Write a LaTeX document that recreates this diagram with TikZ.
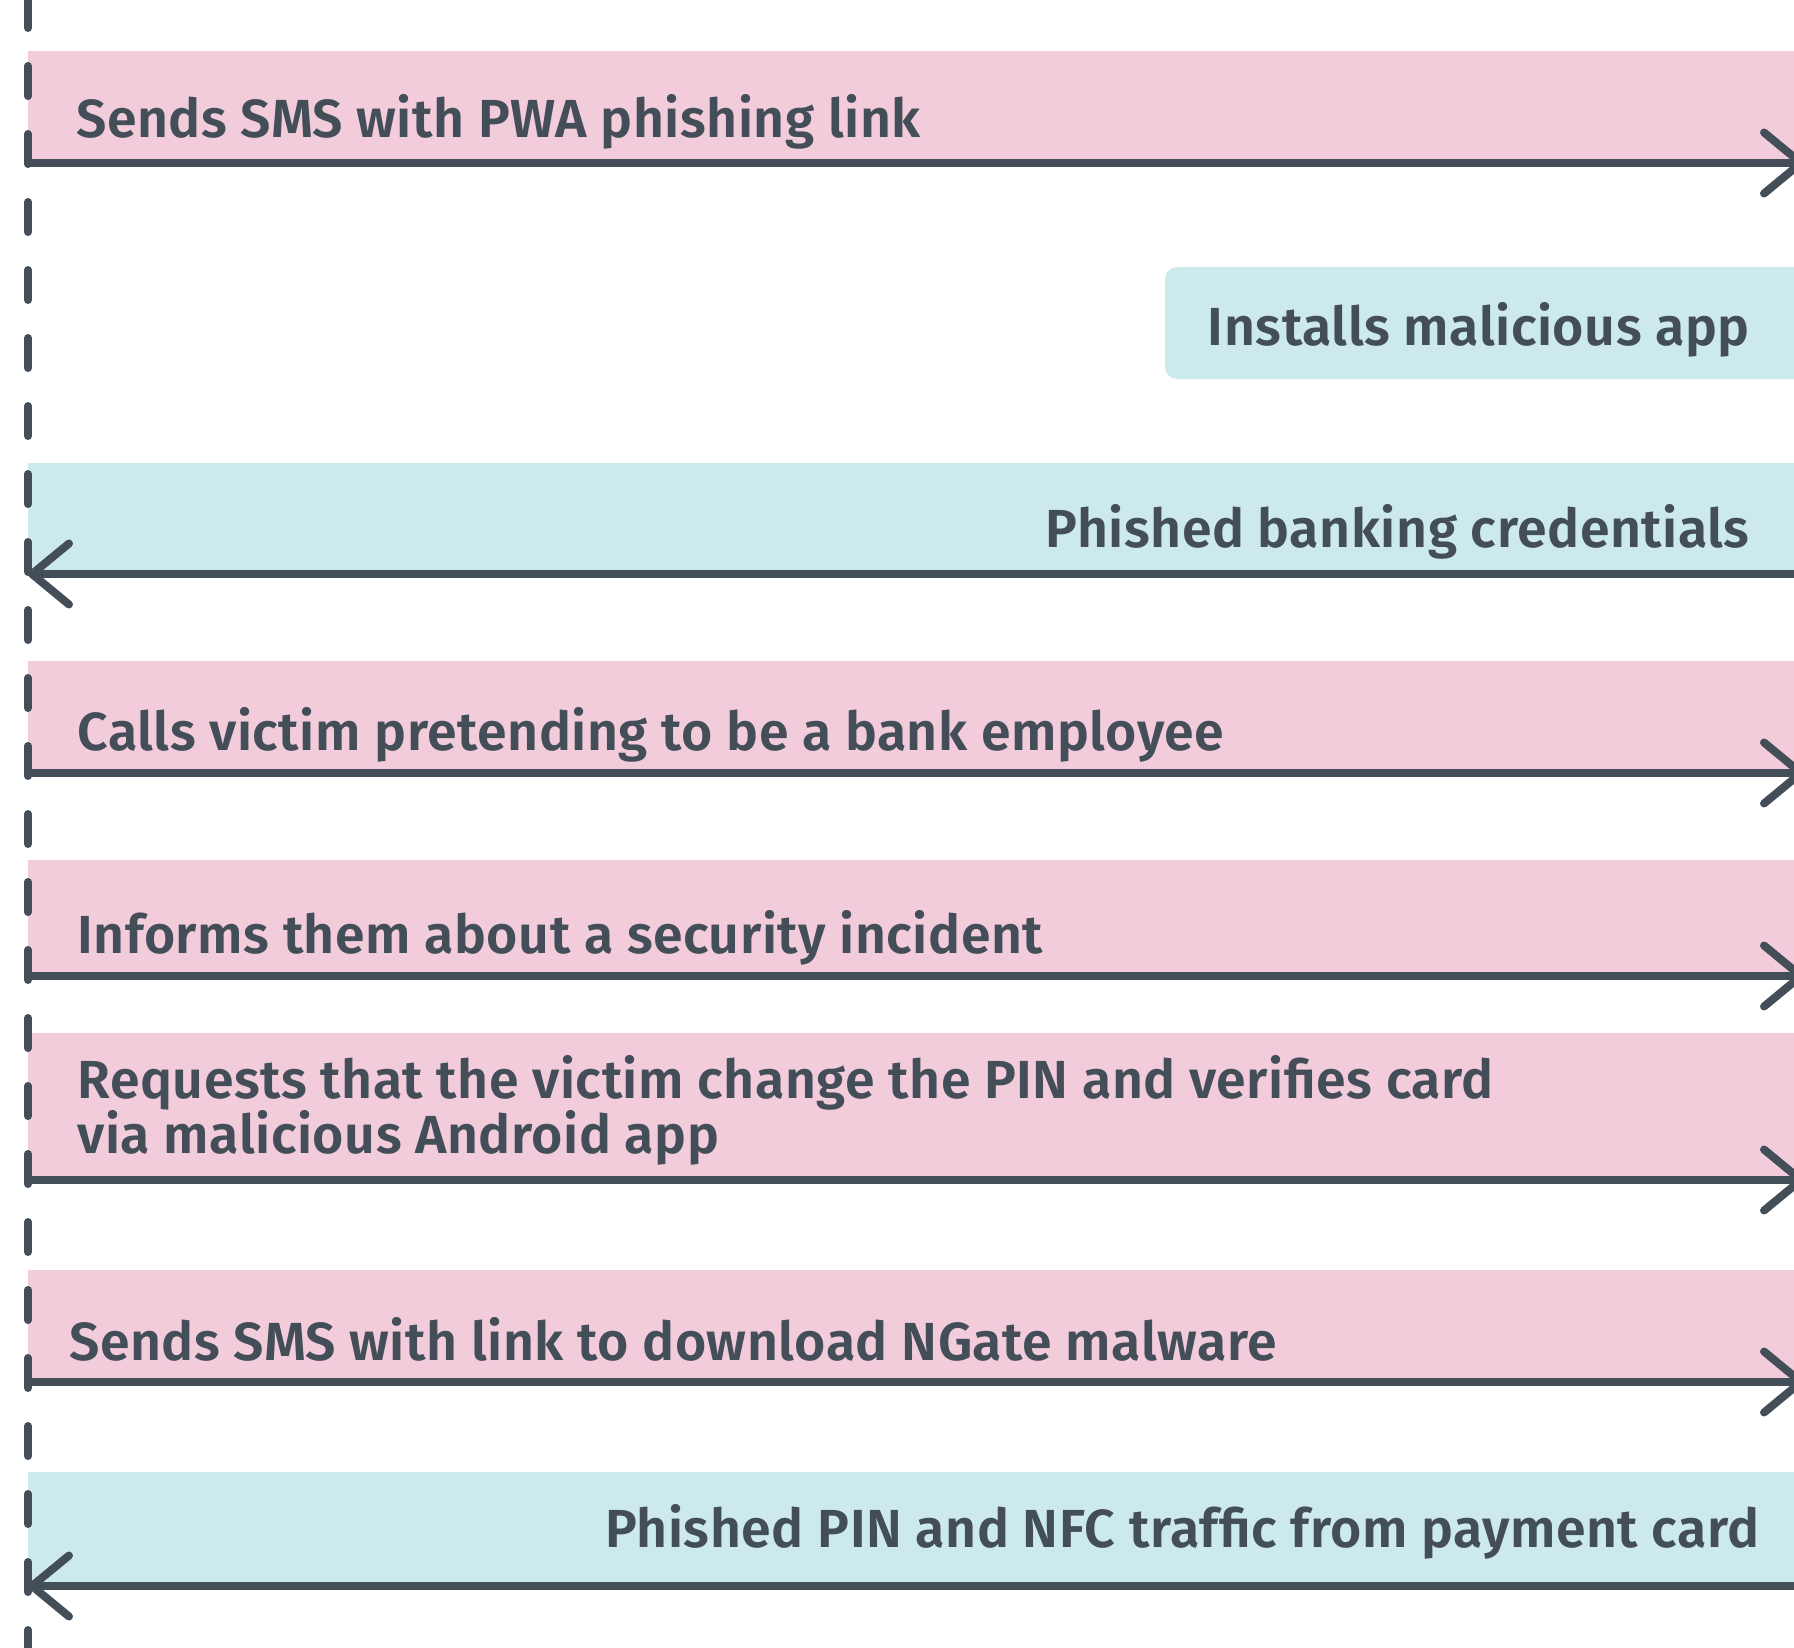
\documentclass[tikz,border=0pt]{standalone}
\usepackage{fontspec}
\setmainfont{Fira Sans}[UprightFont=* SemiBold, LetterSpace=1.0]
\usetikzlibrary{arrows.meta}
\definecolor{pinkband}{RGB}{242,204,219}
\definecolor{cyanband}{RGB}{204,233,236}
\definecolor{ink}{RGB}{67,78,88}
\tikzset{
  lbl/.style={inner sep=0pt, text=ink, font=\fontsize{26.8pt}{27.5pt}\selectfont},
  msg/.style={draw=ink, line width=4pt, line cap=round,
    -{Straight Barb[length=18.5pt,width=30.5pt,round]}},
  lifeline/.style={draw=ink, line width=4pt, line cap=round, dash pattern=on 15pt off 19pt},
}
\begin{document}
\begin{tikzpicture}[x=0.5pt,y=-0.5pt]
\useasboundingbox (0,0) rectangle (1794,1648);
\clip (0,0) rectangle (1794,1648);
% bands
\fill[pinkband] (28,51) rectangle (1794,163);
\fill[cyanband, rounded corners=6pt] (1165,267) rectangle (1830,379);
\fill[cyanband] (28,463) rectangle (1794,574);
\fill[pinkband] (28,661) rectangle (1794,773);
\fill[pinkband] (28,860) rectangle (1794,976);
\fill[pinkband] (28,1033) rectangle (1794,1180);
\fill[pinkband] (28,1270) rectangle (1794,1382);
\fill[cyanband] (28,1472) rectangle (1794,1586);
% lifeline
\coordinate (top) at (28,-2);
\coordinate (bot) at (28,1660);
\draw[lifeline] (top) -- (bot);
% endpoints
\coordinate (l1) at (28,163);   \coordinate (r1) at (1805,163);
\coordinate (l3) at (28,574);   \coordinate (r3) at (1805,574);
\coordinate (l4) at (28,773);   \coordinate (r4) at (1805,773);
\coordinate (l5) at (28,976);   \coordinate (r5) at (1805,976);
\coordinate (l6) at (28,1180);  \coordinate (r6) at (1805,1180);
\coordinate (l7) at (28,1382);  \coordinate (r7) at (1805,1382);
\coordinate (l8) at (28,1586);  \coordinate (r8) at (1805,1586);
\draw[msg] (l1) -- (r1);
\draw[msg] (r3) -- (l3);
\draw[msg] (l4) -- (r4);
\draw[msg] (l5) -- (r5);
\draw[msg] (l6) -- (r6);
\draw[msg] (l7) -- (r7);
\draw[msg] (r8) -- (l8);
% labels
\node[lbl, anchor=base west] (t1) at (76,138) {Sends SMS with PWA phishing link};
\node[lbl, anchor=base east] (t2) at (1750,345) {Installs malicious app};
\node[lbl, anchor=base east] (t3) at (1750,547) {Phished banking credentials};
\node[lbl, anchor=base west] (t4) at (77,750) {Calls victim pretending to be a bank employee};
\node[lbl, anchor=base west] (t5) at (77,953) {Informs them about a security incident};
\node[lbl, anchor=base west, align=left] (t6) at (77,1153) {Requests that the victim change the PIN and verifies card\\via malicious Android app};
\node[lbl, anchor=base west] (t7) at (69,1360) {Sends SMS with link to download NGate malware};
\node[lbl, anchor=base east] (t8) at (1760,1547) {Phished PIN and NFC traffic from payment card};
\end{tikzpicture}
\end{document}
